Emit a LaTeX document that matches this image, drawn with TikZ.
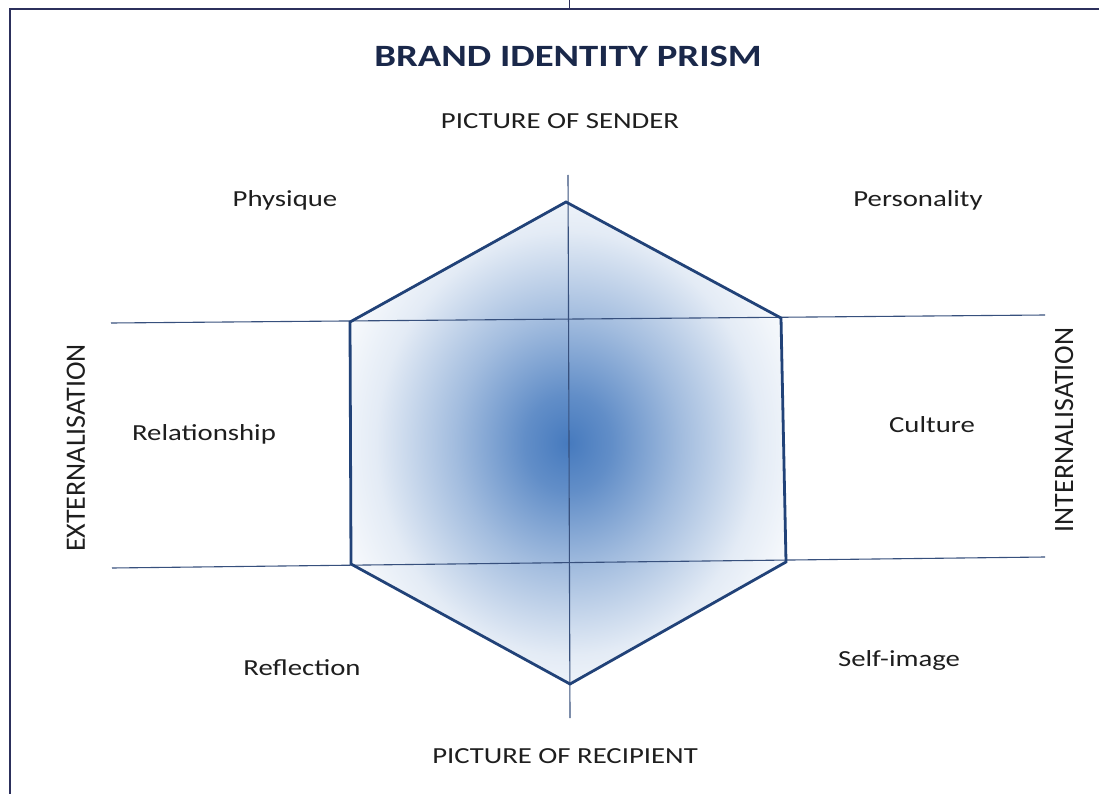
\documentclass[tikz,border=0pt]{standalone}
\usepackage{fontspec}
\setmainfont[FakeStretch=1.25]{Carlito}
\newfontfamily\sidefont{Carlito}
\usetikzlibrary{positioning}

\definecolor{prismblue}{RGB}{70,122,190}
\definecolor{prismedge}{RGB}{33,66,120}
\definecolor{axisline}{RGB}{55,80,125}
\definecolor{framenavy}{RGB}{44,48,92}
\definecolor{titlenavy}{RGB}{26,40,74}
\definecolor{labelgray}{RGB}{30,30,30}

\pgfdeclareradialshading{prismglow}{\pgfpoint{0bp}{0bp}}{%
  color(0bp)=(prismblue); color(5bp)=(prismblue!85);
  color(13bp)=(prismblue!50); color(22bp)=(prismblue!15);
  color(30bp)=(white); color(50bp)=(white)}

\begin{document}
\begin{tikzpicture}[x=1pt, y=-1pt,
		title/.style={font=\fontsize{31}{36}\selectfont\bfseries, text=titlenavy},
		pole/.style={font=\fontsize{23}{27}\selectfont, text=labelgray},
		facet/.style={font=\fontsize{23}{27}\selectfont, text=labelgray},
		side/.style={font=\sidefont\fontsize{28}{32}\selectfont, text=labelgray, rotate=90},
		axis/.style={draw=axisline, line width=1.1pt},
		edge/.style={draw=prismedge, line width=2.8pt, line join=miter},
		frame/.style={draw=framenavy, line width=2.6pt}
	]
	\useasboundingbox (0,0) rectangle (1099,794);

	% prism corners
	\coordinate (top) at (566,202);
	\coordinate (ur) at (781,318);
	\coordinate (lr) at (786,562);
	\coordinate (bot) at (570,684);
	\coordinate (ll) at (351,564);
	\coordinate (ul) at (350,322);

	% axis ends
	\coordinate (vtop) at (568,175);
	\coordinate (vbot) at (570,718);
	\coordinate (hl1) at (111,323);
	\coordinate (hr1) at (1045,315);
	\coordinate (hl2) at (112,568);
	\coordinate (hr2) at (1045,557);

	\shade[shading=prismglow] (top) -- (ur) -- (lr) -- (bot) -- (ll) -- (ul) -- cycle;

	\foreach \i/\j in {vtop/vbot, hl1/hr1, hl2/hr2}
		\draw[axis] (\i) -- (\j);

	\draw[edge] (top) -- (ur) -- (lr) -- (bot) -- (ll) -- (ul) -- cycle;

	% outer frame
	\coordinate (fbl) at (10,794);
	\coordinate (ftl) at (10,9);
	\coordinate (ftr) at (1099,9);
	\coordinate (tick) at (569,0);
	\draw[frame] (fbl) -- (ftl) -- (ftr);
	\draw[framenavy, line width=1pt] (tick) -- (tick |- ftl);

	\node[title] (head) at (568,56) {BRAND IDENTITY PRISM};
	\node[pole] (sender) at (560,121) {PICTURE OF SENDER};
	\node[pole] (recipient) at (565,756) {PICTURE OF RECIPIENT};

	\node[facet] (physique) at (285,200) {Physique};
	\node[facet] (personality) at (918,200) {Personality};
	\node[facet] (relationship) at (204,434) {Relationship};
	\node[facet] (culture) at (932,425) {Culture};
	\node[facet] (reflection) at (302,668) {Reflection};
	\node[facet] (selfimage) at (899,660) {Self-image};

	\node[side] (ext) at (76,448) {EXTERNALISATION};
	\node[side] (int) at (1064,430) {INTERNALISATION};

\end{tikzpicture}
\end{document}
